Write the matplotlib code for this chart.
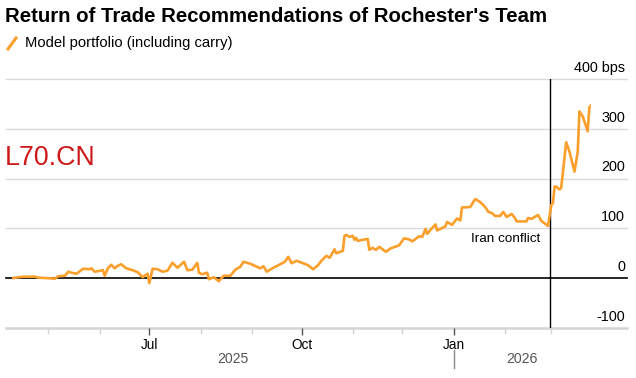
import pandas as pd
import matplotlib.pyplot as plt
import matplotlib.dates as mdates
from matplotlib.lines import Line2D

# -----------------------------------------------------
# DATA (bps)
# -----------------------------------------------------

dates = [
    "2025-04-09", "2025-04-13", "2025-04-16", "2025-04-23", "2025-04-25",
    "2025-05-01", "2025-05-05", "2025-05-07", "2025-05-11", "2025-05-13",
    "2025-05-15", "2025-05-18", "2025-05-22", "2025-05-26", "2025-05-27",
    "2025-05-29", "2025-06-03", "2025-06-04", "2025-06-06", "2025-06-08",
    "2025-06-10", "2025-06-12", "2025-06-14", "2025-06-17", "2025-06-21",
    "2025-06-24", "2025-06-27", "2025-06-30", "2025-07-01", "2025-07-03",
    "2025-07-06", "2025-07-09", "2025-07-12", "2025-07-15", "2025-07-18",
    "2025-07-22", "2025-07-24", "2025-07-27", "2025-07-30", "2025-07-31",
    "2025-08-02", "2025-08-05", "2025-08-06", "2025-08-09", "2025-08-12",
    "2025-08-15", "2025-08-19", "2025-08-22", "2025-08-25", "2025-08-27",
    "2025-08-31", "2025-09-06", "2025-09-08", "2025-09-10", "2025-09-14",
    "2025-09-17", "2025-09-21", "2025-09-23", "2025-09-25", "2025-09-28",
    "2025-10-02", "2025-10-05", "2025-10-08", "2025-10-11", "2025-10-13",
    "2025-10-16", "2025-10-18", "2025-10-21", "2025-10-22", "2025-10-26",
    "2025-10-27", "2025-10-28", "2025-10-30", "2025-11-01", "2025-11-02",
    "2025-11-03", "2025-11-04", "2025-11-10", "2025-11-11", "2025-11-13",
    "2025-11-15", "2025-11-17", "2025-11-19", "2025-11-21", "2025-11-24",
    "2025-11-29", "2025-12-02", "2025-12-05", "2025-12-07", "2025-12-11",
    "2025-12-13", "2025-12-15", "2025-12-16", "2025-12-19", "2025-12-21",
    "2025-12-22", "2025-12-27", "2025-12-28", "2025-12-31", "2026-01-03",
    "2026-01-05", "2026-01-06", "2026-01-11", "2026-01-14", "2026-01-17",
    "2026-01-20", "2026-01-22", "2026-01-24", "2026-01-26", "2026-01-29",
    "2026-01-31", "2026-02-02", "2026-02-05", "2026-02-07", "2026-02-08",
    "2026-02-14", "2026-02-15", "2026-02-17", "2026-02-21", "2026-02-23",
    "2026-02-27", "2026-03-01", "2026-03-02", "2026-03-03", "2026-03-04",
    "2026-03-06", "2026-03-07", "2026-03-10", "2026-03-12", "2026-03-15",
    "2026-03-17", "2026-03-18", "2026-03-20", "2026-03-23", "2026-03-24",
    "2026-03-25",
]

values = [
    0, 2, 3, 3, 1,
    0, -1, 4, 5, 13,
    11, 9, 19, 18, 20,
    13, 16, 5, 20, 27,
    20, 25, 28, 20, 16,
    12, 2, 9, -10, 19,
    18, 13, 15, 31, 21,
    33, 16, 17, 31, 11,
    8, 11, -2, 2, -6,
    5, 5, 17, 23, 33,
    29, 20, 24, 13, 21,
    26, 33, 43, 30, 35,
    30, 26, 18, 26, 35,
    45, 41, 58, 50, 55,
    85, 87, 83, 85, 77,
    81, 75, 79, 57, 61,
    57, 63, 58, 53, 60,
    66, 80, 78, 74, 84,
    83, 99, 89, 101, 108,
    96, 104, 113, 107, 120,
    116, 142, 143, 159, 153,
    143, 133, 131, 125, 125,
    133, 123, 129, 121, 114,
    114, 121, 119, 127, 115,
    105, 147, 151, 184, 184,
    178, 182, 273, 254, 214,
    254, 335, 325, 295, 343,
    347,
]

y_ticks = [400, 300, 200, 100, 0, -100]
y_labels = ["400 bps", "300", "200", "100", "0", "-100"]

event_date = "2026-02-28"
event_label = "Iran conflict"

title = "Return of Trade Recommendations of Rochester's Team"
legend_label = "Model portfolio (including carry)"
watermark = "L70.CN"

ORANGE = "#fa9f2c"
GRID = "#dadada"

dates = pd.to_datetime(dates)
event_date = pd.to_datetime(event_date)

# -----------------------------------------------------
# FIGURE
# -----------------------------------------------------

W, H = 636, 378
plt.rcParams["font.family"] = ["Liberation Sans", "DejaVu Sans"]

fig = plt.figure(figsize=(W / 100, H / 100), dpi=100)


def px(x, y):
    # pixel position (from top-left) -> figure fraction
    return x / W, 1 - y / H


ax = fig.add_axes([12 / W, 1 - 328 / H, (591 - 12) / W, (328 - 79) / H])

ax.plot(dates, values, color=ORANGE, lw=1.9, solid_joinstyle="round", zorder=3)

ax.set_xlim(dates[0], dates[-1])
ax.set_ylim(-100, 400)

for s in ax.spines.values():
    s.set_visible(False)

ax.set_yticks([])

# horizontal grid lines run a little past the data on both sides
gx0 = (6 - 12) / (591 - 12)
gx1 = (627 - 12) / (591 - 12)
for v, lab in zip(y_ticks, y_labels):
    if v == 0:
        color, lw = "black", 1.2
    elif v == -100:
        color, lw = "#d4d4d4", 1.8
    else:
        color, lw = GRID, 1.0
    ax.add_line(Line2D([gx0, gx1], [v, v], transform=ax.get_yaxis_transform(),
                       color=color, lw=lw, clip_on=False, zorder=1))
    ax.annotate(lab, xy=(gx1, v), xycoords=("axes fraction", "data"),
                xytext=(-1.5, 8), textcoords="offset points",
                ha="right", va="center", fontsize=10.4, color="black")

# event marker
ax.axvline(event_date, color="black", lw=1.0, zorder=2)
ax.annotate(event_label, xy=(event_date, 100), xycoords="data",
            xytext=(-7, -7.5), textcoords="offset points",
            ha="right", va="center", fontsize=9.7, color="black")

# x axis: months
ax.xaxis.set_major_locator(mdates.MonthLocator(bymonth=[1, 4, 7, 10]))
ax.xaxis.set_major_formatter(mdates.DateFormatter("%b"))
ax.xaxis.set_minor_locator(mdates.MonthLocator(bymonth=[2, 3, 5, 6, 8, 9, 11, 12]))
ax.tick_params(axis="x", which="major", length=5, width=1, color="#555555",
               labelsize=9.8, pad=2)
ax.tick_params(axis="x", which="minor", length=4, width=1, color="#d4d4d4")

# year labels centred on each year's span of data
jan1 = pd.Timestamp("2026-01-01")
for start, end, year in [(dates[0], jan1, "2025"), (jan1, dates[-1], "2026")]:
    mid = start + (end - start) / 2
    ax.annotate(year, xy=(mid, 0), xycoords=("data", "axes fraction"),
                xytext=(0, -22), textcoords="offset points",
                ha="center", va="center", fontsize=10.2, color="#555555")
x_sep = ax.transData.transform((mdates.date2num(jan1), 0))[0] / W
fig.add_artist(Line2D([x_sep, x_sep], [1 - 350 / H, 1 - 368 / H],
                      transform=fig.transFigure, color="#888888", lw=1))

# -----------------------------------------------------
# TITLE, LEGEND, WATERMARK
# -----------------------------------------------------

fig.text(*px(5, 16), title, fontsize=14.7, fontweight="bold",
         ha="left", va="center", color="black")

fig.add_artist(Line2D([8 / W, 16 / W], [1 - 49 / H, 1 - 38 / H],
                      transform=fig.transFigure, color=ORANGE, lw=2.2))
fig.text(*px(25, 43), legend_label, fontsize=10.6, ha="left", va="center",
         color="black")

fig.text(*px(5, 158), watermark, fontsize=19.3, ha="left", va="center",
         color="#cc1818")

fig.savefig("out.png", dpi=100)
